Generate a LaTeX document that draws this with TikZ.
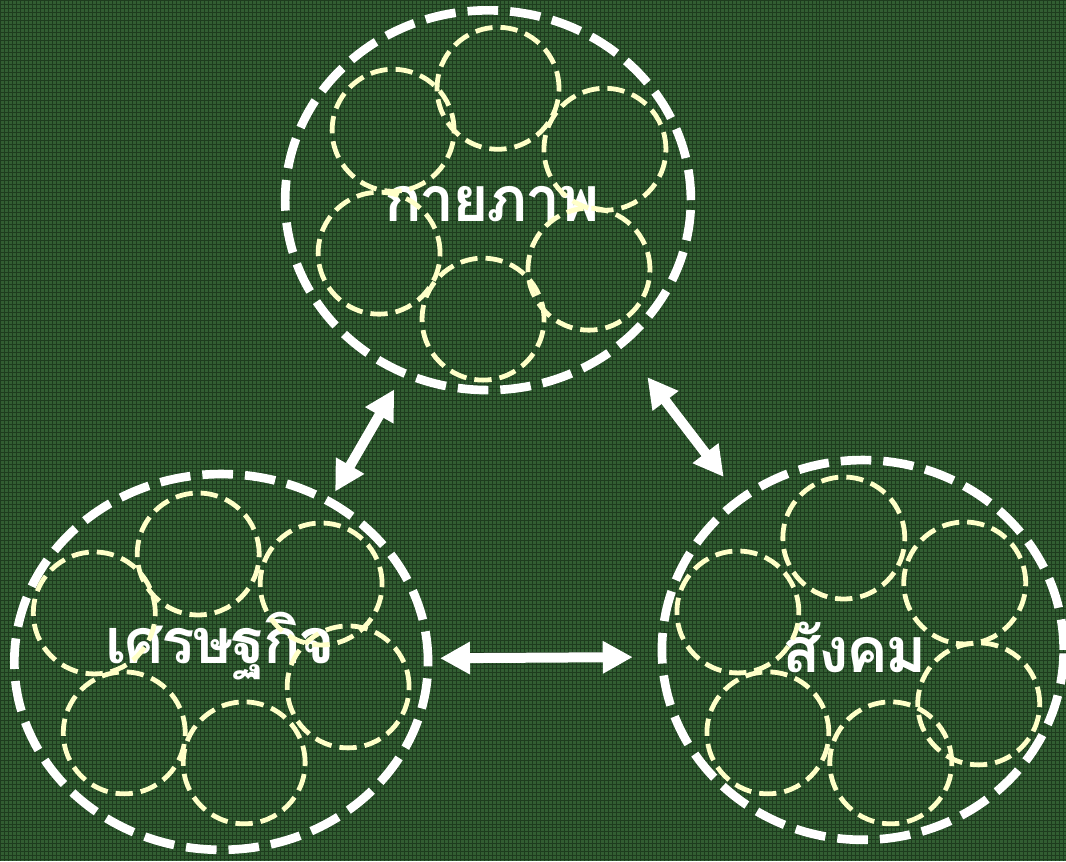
\documentclass[tikz,border=0pt]{standalone}
\usepackage{fontspec}
\newfontfamily\thaifont[Script=Thai,LetterSpace=-4]{Loma}
\usepackage{tikz}
\usetikzlibrary{positioning,calc,shapes.geometric,arrows.meta}
\definecolor{bggreen}{RGB}{50,94,50}
\definecolor{gridgreen}{RGB}{30,60,30}
\definecolor{paleyellow}{RGB}{255,255,200}
\tikzstyle{groupbox} = [ellipse, draw=white, line width=6.5pt, dash pattern=on 23pt off 9pt, inner sep=0pt, outer sep=0pt]
\tikzstyle{partcircle} = [circle, draw=paleyellow, line width=3.6pt, dash pattern=on 13pt off 6pt, minimum size=91.5pt, inner sep=0pt]
\tikzstyle{grouplabel} = [text=white, font=\thaifont\bfseries\fontsize{47}{54}\selectfont, inner sep=0pt]
\tikzstyle{linkarrow} = [draw=white, line width=7.5pt, {Triangle[length=22.5pt,width=23pt]}-{Triangle[length=22.5pt,width=23pt]}]

\begin{document}
\begin{tikzpicture}[x=0.75pt,y=-0.75pt]
  % background
  \fill[bggreen] (0,0) rectangle (1066,861);
  \foreach \i in {0,4,...,1066} \draw[gridgreen, line width=0.5pt] (\i,0) -- (\i,861);
  \foreach \j in {0,4,...,861} \draw[gridgreen, line width=0.5pt] (0,\j) -- (1066,\j);
  \useasboundingbox (0,0) rectangle (1066,861);

  % the three groups
  \node[groupbox, minimum width=304.5pt, minimum height=285pt] (phys) at (488,200) {};
  \node[groupbox, minimum width=310.5pt, minimum height=282pt] (econ) at (221,662) {};
  \node[groupbox, minimum width=301.5pt, minimum height=285pt] (soc) at (863,650) {};

  \node[grouplabel] (physname) at (492,204) {กายภาพ};
  \node[grouplabel] (econname) at (220,646) {เศรษฐกิจ};
  \node[grouplabel] (socname) at (855,647) {สังคม};

  % small parts inside each group
  \foreach \n/\p in {1/{(393,130)},2/{(498,88)},3/{(605,149)},4/{(379,253)},5/{(589,269)},6/{(483,319)}}
    \node[partcircle] (phys-\n) at \p {};
  \foreach \n/\p in {1/{(94,613)},2/{(198,554)},3/{(321,584)},4/{(348,687)},5/{(124,733)},6/{(244,763)}}
    \node[partcircle] (econ-\n) at \p {};
  \foreach \n/\p in {1/{(738,612)},2/{(844,538)},3/{(965,583)},4/{(979,704)},5/{(768,733)},6/{(891,763)}}
    \node[partcircle] (soc-\n) at \p {};

  % links
  \path[linkarrow, shorten <=14.25pt, shorten >=8.8pt] (phys.-116.7) -- (econ.56);
  \path[linkarrow, shorten <=32pt, shorten >=21pt] (phys.-47) -- (soc.129);
  \path[linkarrow, shorten <=9pt, shorten >=22pt] (econ.1) -- (soc.-178);
\end{tikzpicture}
\end{document}
